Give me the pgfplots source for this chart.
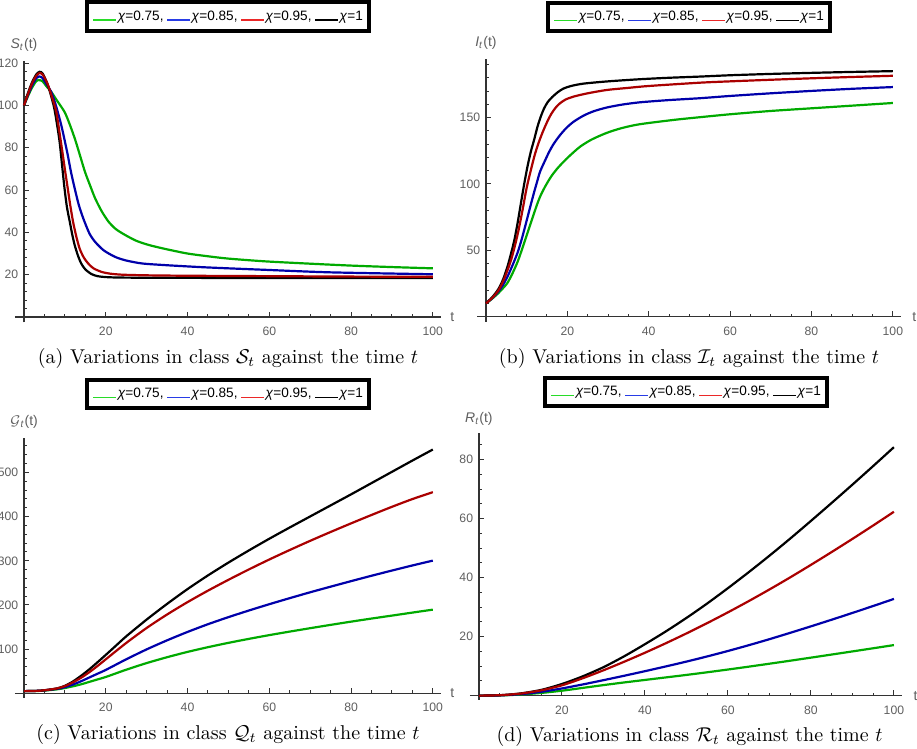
\documentclass[border=0pt]{standalone}
\usepackage{fontspec}
\usepackage{pgfplots}
\pgfplotsset{compat=1.18}
\newfontfamily\arialf{Liberation Sans}
\definecolor{cgreen}{RGB}{0,170,0}
\definecolor{cblue}{RGB}{0,0,170}
\definecolor{cred}{RGB}{170,0,0}
\definecolor{lgreen}{RGB}{40,220,40}
\definecolor{lblue}{RGB}{40,60,230}
\definecolor{lred}{RGB}{235,40,40}
\definecolor{tickgray}{RGB}{95,95,95}
\tikzset{lab/.style={font=\arialf\fontsize{7}{8}\selectfont, text=tickgray, inner sep=0pt},
  legbox/.style={draw=black, line width=2pt, fill=white, inner xsep=3pt, inner ysep=3.9pt,
    font=\arialf\fontsize{6.8}{8}\selectfont, anchor=south, text height=5pt, text depth=1.5pt}}
\newcommand{\samp}[1]{\textcolor{#1}{\rule[-0.4pt]{11.5pt}{0.8pt}}\hspace{0.8pt}}
\newcommand{\legtext}{\samp{lgreen}\textit{χ}=0.75,\hspace{1.8pt}\samp{lblue}\textit{χ}=0.85,\hspace{1.8pt}\samp{lred}\textit{χ}=0.95,\hspace{1.8pt}\samp{black}\textit{χ}=1\hspace{8pt}}
\pgfplotsset{
  mstyle/.style={
    scale only axis,
    axis lines=middle,
    every inner x axis line/.append style={-},
    every inner y axis line/.append style={-},
    axis line style={black!80, line width=0.6pt},
    xmin=-2.2, xmax=102,
    xtick={20,40,60,80,100},
    minor xtick={0,5,...,100},
    tick align=inside,
    major tick length=2.6pt,
    minor tick length=1.5pt,
    every tick/.style={black!80, line width=0.5pt},
    tick label style={font=\arialf\fontsize{6.1}{7}\selectfont, text=tickgray},
    x tick label style={yshift=-1.5pt},
    y tick label style={xshift=0.6pt},
    /pgf/number format/assume math mode=true,
  },
  curve/.style={line width=1.1pt, smooth, tension=0.45},
}
\begin{document}
\begin{tikzpicture}
\useasboundingbox (0,0) rectangle (458.5pt,374.5pt);
% legends (one per panel)
\node[legbox] at (114pt,358pt) {\legtext};
\node[legbox] at (344.5pt,357.9pt) {\legtext};
\node[legbox] at (114pt,169.3pt) {\legtext};
\node[legbox] at (343pt,170.4pt) {\legtext};
% ---------------- (a)
\begin{axis}[mstyle, at={(7.5pt,213.35pt)}, anchor=south west, width=213pt, height=130.65pt,
  ymin=-2.5, ymax=121, ytick={20,40,60,80,100,120}, minor ytick={4,8,...,120},
  every axis x label/.style={at={(axis description cs:1,0.0202)}, anchor=west, lab, xshift=4.5pt},
  every axis y label/.style={at={(axis description cs:0.0211,1)}, anchor=south, lab, yshift=4.5pt},
  xlabel={t}, ylabel={\textit{S}\textsubscript{\textit{t}}(t)}]
\addplot[curve, cgreen] coordinates {(0,100)(1,104.5)(2,108.5)(3,111.5)(3.5,112)(4.5,111.5)(5.5,109)(6.6,106.6)(8,102.5)(9.9,97)(11,92)(12.4,84.5)(13.6,77)(14.9,68.7)(16.2,62)(17.4,56.1)(19,50)(20.7,45)(22.5,41.5)(24.8,38.7)(27.5,36)(30.6,34)(34.7,32.1)(40,30)(45,28.7)(50,27.6)(59,26.3)(70,25.2)(80,24.3)(90,23.6)(100,23.0)};
\addplot[curve, cblue] coordinates {(0,100)(1,105)(2,109.5)(3,112.8)(3.7,113.7)(4.5,113)(5.5,110)(6.6,106.6)(7.8,100)(9.1,90.8)(10,83)(10.7,76.6)(11.5,68.5)(12.4,60.8)(13.4,53)(14.5,46.6)(16,39.5)(17.4,35.5)(19.5,31.5)(22.3,28.4)(25,26.7)(28.9,25.3)(34.7,24.5)(43,23.6)(50,23)(59,22.3)(75,21.1)(100,20.2)};
\addplot[curve, black] coordinates {(0,100)(1,106)(2,111)(3,114.6)(3.8,115.9)(4.6,115)(5.8,109.8)(6.7,104)(7.4,98.7)(8,92)(8.7,83)(9.3,72)(9.9,61)(10.5,52)(11.2,45)(11.8,39)(12.4,34)(13.2,29)(14,25.3)(15,22.5)(16.5,20.3)(18,19.3)(19.8,18.9)(22,18.7)(26,18.6)(40,18.5)(60,18.4)(80,18.4)(100,18.4)};
\addplot[curve, cred] coordinates {(0,100)(1,105.5)(2,110.5)(3,114)(3.8,115.3)(4.6,114.5)(5.8,110)(7,103)(7.9,97)(8.7,87)(9.5,76.6)(10.1,68.5)(10.7,60.8)(11.3,53)(12,45)(12.8,38)(13.6,32.4)(14.6,28.2)(15.7,25.3)(17,23)(19,21.3)(21,20.5)(24,20)(30,19.7)(40,19.5)(60,19.3)(80,19.1)(100,19.0)};
\end{axis}
% ---------------- (b)
\begin{axis}[mstyle, at={(238.5pt,213.5pt)}, anchor=south west, width=212pt, height=131.4pt,
  ymin=-4, ymax=194, ytick={50,100,150}, minor ytick={10,20,...,190},
  every axis x label/.style={at={(axis description cs:1,0.0202)}, anchor=west, lab, xshift=5.5pt},
  every axis y label/.style={at={(axis description cs:0.0211,1)}, anchor=south, lab, yshift=4.5pt},
  xlabel={t}, ylabel={\textit{I}\textsubscript{\textit{t}}(t)}]
\addplot[curve, cgreen] coordinates {(0,10)(1.5,13.5)(3,17.6)(4.2,21.5)(5.3,25.5)(6.5,32.5)(7.8,41.5)(9,52)(10.2,63)(11.5,75)(12.5,84)(13.3,90.4)(14.5,97.8)(16,105.5)(17.5,111.5)(19,116.5)(20.5,121)(23.1,128)(26,133.5)(29.7,138.5)(33.5,142.2)(37.8,145)(46,148.2)(52.6,150.3)(60,152.5)(70,155)(80,157)(90,159)(100,161)};
\addplot[curve, cblue] coordinates {(0,10)(1.5,13.8)(3,18.7)(4.2,24)(5.3,30.2)(6.5,38.5)(7.8,48.5)(8.8,58.5)(9.8,70)(10.9,83)(11.9,94.5)(12.6,102)(13.3,109.3)(14.5,117.5)(15.5,124)(16.5,129.5)(18,136)(19.7,142)(21.5,146.8)(24,151.5)(26.5,154.8)(29.7,157.6)(33.5,159.8)(37.8,161.5)(45,163.2)(52.6,164.6)(60,166.3)(70,168.3)(80,170.1)(90,171.7)(100,173)};
\addplot[curve, black] coordinates {(0,10)(1.5,14.5)(3,20.5)(4.2,28)(5.3,37.8)(6.2,48)(7,58)(7.8,71)(8.6,85.6)(9.4,100)(10.2,113)(11,124)(11.9,134)(12.7,143.5)(13.5,151)(14.3,157)(15.2,161.8)(16.3,165.5)(17.6,169)(19,171.8)(20.9,173.8)(24,175.6)(30,177.3)(37.8,178.9)(45,180)(52.6,180.9)(60,181.9)(70,182.9)(80,183.7)(90,184.4)(100,185)};
\addplot[curve, cred] coordinates {(0,10)(1.5,14)(3,19.5)(4.2,26.5)(5.3,35)(6.2,43)(7,52)(8,65)(9,80.5)(10,97)(11,110)(12,122)(13,131.5)(14,139.5)(15,146.5)(16,152.5)(17,157)(18,160.3)(19.5,163.5)(21.5,165.8)(25,168.3)(29.7,170.8)(35,172.4)(40,173.8)(52.6,176.3)(60,177.3)(70,178.5)(80,179.6)(90,180.6)(100,181.5)};
\end{axis}
% ---------------- (c)
\begin{axis}[mstyle, at={(7.5pt,25.4pt)}, anchor=south west, width=213pt, height=130.3pt,
  ymin=-11, ymax=579, ytick={100,200,300,400,500}, minor ytick={20,40,...,560},
  every axis x label/.style={at={(axis description cs:1,0.0186)}, anchor=west, lab, xshift=4.5pt},
  every axis y label/.style={at={(axis description cs:0.0211,1)}, anchor=south, lab, yshift=4.5pt},
  xlabel={t}, ylabel={$\mathcal{G}$\textsubscript{\textit{t}}(t)}]
\addplot[curve, cgreen] coordinates {(0,5)(4,5.6)(8,9)(10,12)(12,16)(14,20.5)(16,26)(18,31.5)(20,37)(25,53.5)(30,68.5)(35,81.8)(40,93.8)(45,104.5)(50,114.3)(55,123.3)(60,131.8)(65,139.8)(70,147.5)(75,155)(80,162.3)(85,169.3)(90,176)(95,182.8)(100,189.5)};
\addplot[curve, cblue] coordinates {(0,5)(4,6)(8,10)(10,14)(12,20)(14,27.5)(16,36)(18,44.5)(20,53)(25,77)(30,99.5)(35,120)(40,139)(45,156.5)(50,172.5)(55,187.5)(60,201.8)(65,215.5)(70,228.8)(75,241.5)(80,254)(85,266.2)(90,278)(95,289.5)(100,300.5)};
\addplot[curve, black] coordinates {(0,5)(4,6)(8,11)(10,17)(12,27)(14,40)(16,54.5)(18,70.5)(20,87)(22.5,108)(25,129)(30,167)(35,202.5)(40,236)(45,267)(50,296)(55,323.5)(60,350)(65,375.5)(70,400.5)(75,425.5)(80,450.5)(85,476)(90,501.5)(95,527)(100,552)};
\addplot[curve, cred] coordinates {(0,5)(4,6)(8,11)(10,16.5)(12,25)(14,35.5)(16,48)(18,62)(20,77)(25,114)(30,148)(35,178.5)(40,206.5)(45,232.5)(50,257)(55,280.5)(60,303)(65,324.5)(70,345.3)(75,365.3)(80,384.8)(85,403.8)(90,422.3)(95,439.8)(100,455.5)};
\end{axis}
% ---------------- (d)
\begin{axis}[mstyle, at={(234.9pt,24.6pt)}, anchor=south west, width=216.2pt, height=133.3pt,
  ymin=-1.4, ymax=89, ytick={20,40,60,80}, minor ytick={5,10,...,85},
  every axis x label/.style={at={(axis description cs:1,0.0155)}, anchor=west, lab, xshift=5.5pt},
  every axis y label/.style={at={(axis description cs:0.0211,1)}, anchor=south, lab, yshift=3.5pt},
  xlabel={t}, ylabel={\textit{R}\textsubscript{\textit{t}}(t)}]
\addplot[curve, cgreen] coordinates {(0,0)(5,0.08)(10,0.38)(15,0.93)(20,1.68)(25,2.63)(30,3.58)(35,4.48)(40,5.33)(45,6.18)(50,7.03)(55,7.93)(60,8.86)(65,9.83)(70,10.83)(75,11.85)(80,12.89)(85,13.94)(90,15.0)(95,16.07)(100,17.15)};
\addplot[curve, cblue] coordinates {(0,0)(5,0.1)(10,0.5)(15,1.3)(20,2.45)(25,3.8)(30,5.25)(35,6.75)(40,8.3)(45,9.9)(50,11.55)(55,13.3)(60,15.15)(65,17.1)(70,19.15)(75,21.3)(80,23.5)(85,25.75)(90,28.05)(95,30.4)(100,32.8)};
\addplot[curve, black] coordinates {(0,0)(5,0.15)(10,0.75)(15,1.95)(20,3.95)(25,6.55)(30,9.65)(35,13.35)(40,17.45)(45,21.75)(50,26.35)(55,31.25)(60,36.45)(65,41.85)(70,47.45)(75,53.25)(80,59.25)(85,65.35)(90,71.55)(95,77.85)(100,84.25)};
\addplot[curve, cred] coordinates {(0,0)(5,0.15)(10,0.7)(15,1.8)(20,3.5)(25,5.9)(30,8.6)(35,11.5)(40,14.55)(45,17.75)(50,21.1)(55,24.6)(60,28.25)(65,32.05)(70,36.0)(75,40.1)(80,44.35)(85,48.7)(90,53.15)(95,57.7)(100,62.35)};
\end{axis}
% captions
\node[font=\fontsize{10}{12}\selectfont] at (114pt,195.25pt) {(a) Variations in class $\mathcal{S}_t$ against the time $t$};
\node[font=\fontsize{10}{12}\selectfont] at (344.5pt,195.25pt) {(b) Variations in class $\mathcal{I}_t$ against the time $t$};
\node[font=\fontsize{10}{12}\selectfont] at (114pt,7pt) {(c) Variations in class $\mathcal{Q}_t$ against the time $t$};
\node[font=\fontsize{10}{12}\selectfont] at (344.8pt,6pt) {(d) Variations in class $\mathcal{R}_t$ against the time $t$};
\end{tikzpicture}
\end{document}
